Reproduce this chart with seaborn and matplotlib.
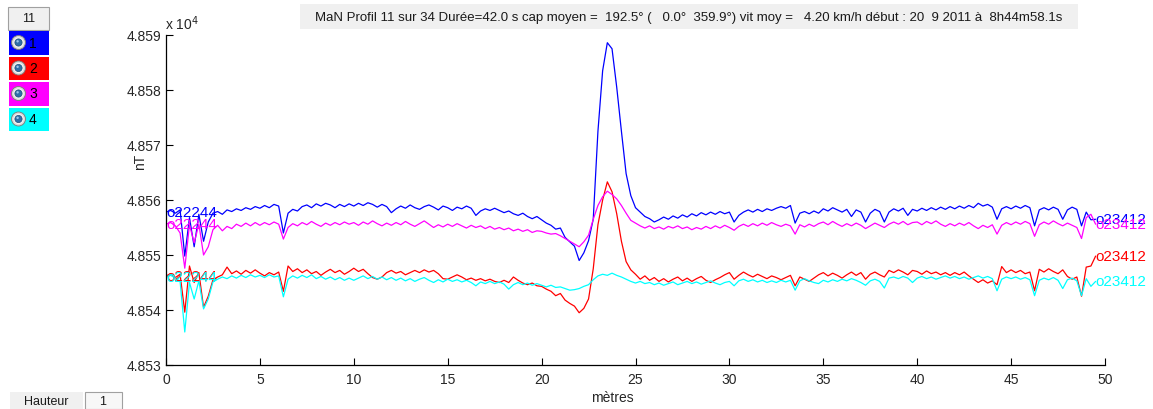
import numpy as np
import pandas as pd
import matplotlib
matplotlib.use("Agg")
import matplotlib.pyplot as plt
from matplotlib.patches import Rectangle, Circle
from matplotlib.ticker import FuncFormatter
import seaborn as sns

# distance along the profile (m), one sample every 0.25 m
distance = [round(0.25 * i, 2) for i in range(199)]

# total field per sensor (nT)
blue = [
    48557.8, 48558.1, 48557.6, 48558.2, 48549.8, 48556.8, 48551.5, 48557.4, 48552.5, 48556.0,
    48557.6, 48557.9, 48557.4, 48558.2, 48557.9, 48558.4, 48558.1, 48558.6, 48558.3, 48558.8,
    48558.5, 48559.0, 48558.6, 48559.2, 48558.9, 48554.0, 48557.6, 48558.3, 48558.0, 48558.8,
    48559.1, 48558.6, 48559.3, 48558.9, 48559.4, 48559.1, 48558.6, 48559.2, 48558.8, 48559.3,
    48558.9, 48559.4, 48559.0, 48559.5, 48559.2, 48558.7, 48559.2, 48558.8, 48557.7, 48558.4,
    48558.9, 48558.5, 48559.1, 48558.6, 48558.3, 48558.8, 48559.1, 48558.7, 48558.2, 48558.9,
    48558.6, 48558.1, 48558.7, 48558.4, 48558.9, 48558.5, 48557.2, 48558.0, 48558.4, 48558.1,
    48558.5, 48558.1, 48557.7, 48558.0, 48557.5, 48557.2, 48557.6, 48557.0, 48556.6, 48557.0,
    48556.4, 48555.8, 48555.4, 48554.7, 48554.9, 48553.2, 48552.4, 48551.6, 48549.0, 48550.4,
    48552.6, 48556.5, 48572.5, 48583.5, 48588.6, 48587.5, 48580.5, 48572.5, 48564.8, 48560.8,
    48558.6, 48557.8, 48557.0, 48556.6, 48556.0, 48556.4, 48556.9, 48556.5, 48557.1, 48556.7,
    48557.3, 48556.9, 48557.5, 48557.1, 48557.7, 48557.3, 48557.8, 48557.4, 48557.9, 48557.5,
    48557.8, 48556.0, 48557.2, 48557.8, 48558.2, 48557.8, 48558.3, 48557.9, 48558.4, 48558.1,
    48558.5, 48558.8, 48558.5, 48559.0, 48555.8, 48557.6, 48557.9, 48557.5, 48558.0, 48557.6,
    48558.4, 48558.0, 48558.6, 48558.2, 48557.8, 48558.3, 48557.0, 48558.2, 48557.8, 48556.0,
    48557.6, 48558.3, 48557.9, 48556.0, 48557.8, 48558.4, 48558.0, 48558.5, 48557.2, 48558.3,
    48558.0, 48558.5, 48558.1, 48558.6, 48558.2, 48558.7, 48558.3, 48558.8, 48558.4, 48558.9,
    48558.5, 48559.0, 48558.6, 48559.4, 48558.9, 48559.2, 48558.7, 48556.5, 48558.4, 48558.8,
    48558.4, 48558.9, 48558.5, 48559.0, 48558.6, 48555.3, 48558.2, 48558.6, 48558.2, 48558.7,
    48558.3, 48556.5, 48558.2, 48558.7, 48558.3, 48555.3, 48557.8, 48556.4, 48556.5,
]

red = [
    48546.2, 48546.6, 48545.9, 48546.5, 48539.6, 48548.0, 48545.0, 48546.8, 48540.5, 48542.5,
    48545.5, 48546.0, 48546.4, 48547.8, 48546.6, 48547.1, 48546.5, 48547.2, 48546.7, 48547.3,
    48546.7, 48546.2, 48546.8, 48546.4, 48546.9, 48543.4, 48548.0, 48547.0, 48547.5, 48546.8,
    48547.3, 48546.6, 48547.0, 48546.3, 48546.9, 48547.4, 48546.8, 48547.2, 48546.5, 48547.0,
    48547.6, 48547.0, 48547.4, 48546.6, 48545.9, 48545.6, 48546.0, 48546.8, 48547.2, 48546.7,
    48547.0, 48546.4, 48546.8, 48547.2, 48546.8, 48547.3, 48546.9, 48547.2, 48546.6, 48545.7,
    48545.6, 48546.0, 48546.4, 48546.0, 48545.5, 48545.8, 48545.4, 48545.7, 48545.3, 48545.6,
    48545.2, 48545.0, 48545.4, 48545.0, 48546.0, 48545.4, 48544.9, 48544.6, 48544.9, 48544.4,
    48544.3, 48543.8, 48543.4, 48542.6, 48543.0, 48541.8, 48541.2, 48540.7, 48539.5, 48540.3,
    48542.0, 48547.5, 48555.5, 48560.0, 48563.3, 48561.5, 48557.5, 48552.5, 48548.8, 48547.3,
    48546.5, 48545.6, 48546.2, 48545.4, 48545.9, 48545.2, 48545.7, 48545.1, 48545.6, 48546.0,
    48545.3, 48545.8, 48545.2, 48545.7, 48546.1, 48545.4, 48545.0, 48545.5, 48545.9, 48546.4,
    48546.8, 48545.6, 48546.3, 48546.9, 48546.4, 48546.0, 48546.5, 48546.1, 48545.7, 48546.2,
    48545.9, 48545.5, 48545.9, 48546.3, 48544.4, 48546.0, 48545.6, 48545.2, 48545.8, 48546.4,
    48546.8, 48546.2, 48546.7, 48546.3, 48545.8, 48546.4, 48546.9, 48546.3, 48546.8, 48545.6,
    48546.5, 48546.9, 48546.4, 48546.0, 48547.2, 48546.8, 48547.3, 48546.9, 48546.4, 48547.2,
    48547.0, 48546.5, 48547.1, 48546.6, 48546.9, 48546.4, 48546.8, 48546.3, 48546.8, 48546.4,
    48546.9, 48546.2, 48545.6, 48545.0, 48545.5, 48544.9, 48545.3, 48544.6, 48547.9, 48546.8,
    48547.3, 48546.8, 48547.2, 48546.6, 48546.9, 48543.5, 48547.4, 48546.9, 48547.5, 48547.0,
    48546.6, 48547.3, 48546.1, 48545.6, 48546.0, 48542.5, 48547.8, 48548.0, 48549.8,
]

magenta = [
    48555.6, 48555.9, 48555.3, 48554.0, 48547.6, 48555.5, 48552.2, 48555.6, 48550.0, 48551.5,
    48554.6, 48555.4, 48554.4, 48555.2, 48554.8, 48555.6, 48555.2, 48555.8, 48555.3, 48555.9,
    48555.4, 48555.9, 48555.5, 48556.0, 48555.6, 48552.9, 48555.0, 48555.7, 48555.3, 48555.9,
    48555.5, 48556.1, 48555.6, 48555.2, 48555.8, 48555.4, 48555.9, 48555.5, 48556.0, 48555.6,
    48555.9, 48555.4, 48556.0, 48555.6, 48556.2, 48555.7, 48555.3, 48555.8, 48555.4, 48555.9,
    48555.5, 48556.1, 48555.6, 48555.2, 48555.7, 48556.2, 48555.6, 48555.0, 48555.5, 48555.1,
    48555.6, 48555.2, 48555.7, 48555.3, 48554.9, 48555.4, 48555.0, 48555.3, 48554.8, 48555.2,
    48554.7, 48555.0, 48554.6, 48554.9, 48554.4, 48554.7, 48554.3, 48554.6, 48554.1, 48554.4,
    48554.3, 48554.0, 48553.8, 48553.9, 48553.5, 48553.0, 48552.5, 48552.0, 48551.5, 48552.4,
    48553.6, 48556.5, 48559.0, 48560.6, 48561.6, 48561.0, 48560.2, 48559.0, 48557.6, 48556.3,
    48555.8, 48555.3, 48554.9, 48555.3, 48554.8, 48555.1, 48554.7, 48555.2, 48554.9, 48555.3,
    48554.8, 48555.1, 48554.6, 48555.0, 48554.7, 48555.2, 48554.8, 48555.3, 48554.9, 48555.4,
    48555.0, 48554.5, 48555.2, 48555.6, 48555.2, 48555.7, 48555.3, 48555.8, 48555.4, 48555.9,
    48555.5, 48555.2, 48555.6, 48555.3, 48553.8, 48555.5, 48555.1, 48555.6, 48555.2, 48555.7,
    48556.0, 48555.5, 48556.1, 48555.6, 48555.2, 48555.7, 48555.3, 48555.8, 48555.4, 48554.8,
    48555.3, 48555.8, 48555.4, 48555.0, 48555.6, 48556.0, 48555.6, 48556.1, 48555.5, 48555.9,
    48556.0, 48555.5, 48556.1, 48555.7, 48556.2, 48555.6, 48555.2, 48555.7, 48555.3, 48555.8,
    48555.4, 48555.9, 48555.3, 48554.8, 48555.4, 48555.0, 48555.5, 48553.8, 48555.4, 48555.9,
    48555.5, 48556.0, 48555.6, 48556.1, 48555.7, 48553.4, 48555.5, 48556.0, 48555.6, 48556.2,
    48555.7, 48555.3, 48555.8, 48555.4, 48555.0, 48553.0, 48556.8, 48557.4, 48555.6,
]

cyan = [
    48546.0, 48546.3, 48545.8, 48545.2, 48536.0, 48545.0, 48542.0, 48545.3, 48540.2, 48542.0,
    48545.1, 48545.6, 48546.0, 48545.7, 48546.2, 48545.8, 48546.3, 48545.9, 48546.4, 48546.0,
    48546.3, 48545.9, 48546.4, 48546.0, 48546.2, 48542.4, 48545.6, 48546.2, 48545.8, 48546.3,
    48545.9, 48546.4, 48545.7, 48546.1, 48545.6, 48546.0, 48545.5, 48545.9, 48545.4, 48545.8,
    48545.4, 48545.8, 48546.2, 48545.7, 48546.1, 48545.6, 48546.0, 48545.5, 48545.9, 48545.4,
    48545.8, 48545.3, 48545.7, 48545.2, 48545.6, 48545.9, 48545.4, 48545.0, 48545.5, 48545.1,
    48545.6, 48545.2, 48545.5, 48545.1, 48545.4, 48545.0, 48544.4, 48545.1, 48544.8, 48545.2,
    48544.8, 48545.1, 48544.7, 48543.8, 48544.6, 48545.0, 48544.6, 48544.9, 48544.5, 48544.8,
    48544.5, 48544.2, 48544.5, 48544.1, 48544.2, 48543.9, 48543.6, 48543.7, 48543.9, 48544.3,
    48544.6, 48545.5, 48546.2, 48546.5, 48546.3, 48546.7, 48546.3, 48546.0, 48545.6, 48545.2,
    48544.9, 48545.2, 48544.8, 48545.0, 48544.6, 48544.9, 48544.5, 48544.8, 48545.1, 48544.6,
    48544.9, 48545.2, 48544.8, 48545.1, 48544.7, 48545.0, 48545.3, 48544.9, 48544.6, 48545.0,
    48545.2, 48544.4, 48545.3, 48545.6, 48545.2, 48545.5, 48545.1, 48545.4, 48545.0, 48545.3,
    48545.0, 48545.4, 48545.1, 48545.4, 48543.6, 48545.3, 48545.7, 48545.3, 48545.0, 48544.8,
    48545.4, 48545.1, 48545.5, 48545.2, 48545.6, 48545.3, 48545.7, 48545.4, 48545.0, 48544.5,
    48545.3, 48545.6, 48545.2, 48544.0, 48545.8, 48546.0, 48545.7, 48546.1, 48545.8, 48545.0,
    48545.8, 48546.1, 48545.7, 48546.0, 48545.6, 48545.9, 48546.2, 48545.8, 48546.1, 48545.7,
    48546.0, 48545.6, 48545.9, 48546.2, 48545.8, 48546.1, 48545.7, 48543.5, 48545.6, 48546.0,
    48545.7, 48546.0, 48545.6, 48545.9, 48545.5, 48542.6, 48545.4, 48545.8, 48545.5, 48545.9,
    48545.4, 48543.9, 48545.5, 48545.8, 48545.3, 48542.6, 48545.7, 48544.3, 48545.2,
]

series_names = ["1", "2", "3", "4"]
series_colors = ["#0000ff", "#ff0000", "#ff00ff", "#00ffff"]
start_ids = ["22244", "22244", "22244", "22244"]
end_ids = ["23412", "23412", "23412", "23412"]

y_ticks = [48530, 48540, 48550, 48560, 48570, 48580, 48590]
x_ticks = [0, 5, 10, 15, 20, 25, 30, 35, 40, 45, 50]

title_text = ("MaN Profil 11 sur 34 Durée=42.0 s cap moyen =  192.5° (   0.0°  359.9°) "
              "vit moy =   4.20 km/h début : 20  9 2011 à  8h44m58.1s")

values = [blue, red, magenta, cyan]
df = pd.DataFrame({
    "distance": distance * 4,
    "nT": [v for s in values for v in s],
    "capteur": [n for n, s in zip(series_names, values) for _ in s],
})

sns.set_style("ticks")
plt.rcParams["font.family"] = ["Liberation Sans", "DejaVu Sans"]

W, H = 1153, 410
fig = plt.figure(figsize=(W / 100, H / 100), dpi=100)
ax = fig.add_axes([166 / W, 1 - 366 / H, 939 / W, 330 / H])

sns.lineplot(data=df, x="distance", y="nT", hue="capteur",
             palette=series_colors, hue_order=series_names,
             estimator=None, sort=False, legend=False, linewidth=0.9, ax=ax)

# sensor ids at both ends of each trace
for s, c, a, b in zip(values, series_colors, start_ids, end_ids):
    ax.text(distance[0], s[0], "o" + a, color=c, fontsize=11,
            ha="left", va="center", clip_on=False)
    ax.text(distance[-1], s[-1], "o" + b, color=c, fontsize=11,
            ha="left", va="center", clip_on=False)

ax.set_xlim(0, 50)
ax.set_ylim(48530, 48590)
ax.set_xticks(x_ticks)
ax.set_yticks(y_ticks)
ax.yaxis.set_major_formatter(FuncFormatter(lambda v, p: f"{v / 1e4:.3f}"))
ax.tick_params(direction="in", length=5, width=0.8, labelsize=10,
               labelcolor="#262626", color="black")
ax.tick_params(axis="x", pad=5)
for side in ("top", "right"):
    ax.spines[side].set_visible(False)
for side in ("left", "bottom"):
    ax.spines[side].set_color("black")
    ax.spines[side].set_linewidth(0.9)
ax.set_xlabel("mètres", fontsize=10, color="#262626")
ax.xaxis.set_label_coords((612 - 166) / 939, (366 - 398) / 330)
ax.xaxis.label.set_va("center")
ax.set_ylabel("nT", fontsize=10, color="#262626")
ax.yaxis.set_label_coords((140 - 166) / 939, (366 - 162) / 330)
ax.yaxis.label.set_va("center")

fig.text(165 / W, 1 - 30 / H, r"x 10$^{4}$", fontsize=10, color="#262626",
         ha="left", va="baseline")

# control panel drawn in figure pixel coordinates
ui = fig.add_axes([0, 0, 1, 1], zorder=5)
ui.set_xlim(0, W)
ui.set_ylim(H, 0)
ui.axis("off")
ui.patch.set_alpha(0)

ui.add_patch(Rectangle((300, 5), 778, 25, fc="#f0f0f0", ec="none"))
ui.text(689, 17.5, title_text, fontsize=9.5, ha="center", va="center",
        color="#1a1a1a")

ui.add_patch(Rectangle((8, 8), 41, 23, fc="#f0f0f0", ec="#a0a0a0", lw=0.8))
ui.text(28.5, 19.5, "11", fontsize=9, ha="center", va="center", color="#1a1a1a")

for i, (n, c) in enumerate(zip(series_names, series_colors)):
    top = 32 + 25.5 * i
    ui.add_patch(Rectangle((9, top), 40, 23.5, fc=c, ec="none"))
    cy = top + 11.5
    ui.add_patch(Circle((18.5, cy), 7, fc="#d9d9d9", ec="#7a7a7a", lw=0.6))
    ui.add_patch(Circle((18.5, cy), 5.2, fc="#f4f4f4", ec="none"))
    ui.add_patch(Circle((18.5, cy), 3.6, fc="#2f6fa8", ec="#1e4f7c", lw=0.5))
    ui.add_patch(Circle((17.6, cy - 1.2), 1.2, fc="#9cc6ea", ec="none"))
    ui.text(29, cy, n, fontsize=10, ha="left", va="center", color="black")

ui.add_patch(Rectangle((10, 393), 73, 17, fc="#f0f0f0", ec="none"))
ui.text(46, 402, "Hauteur", fontsize=9, ha="center", va="center", color="#1a1a1a")
ui.add_patch(Rectangle((85, 393), 37, 17, fc="#f7f7f7", ec="#a0a0a0", lw=0.8))
ui.text(103, 402, "1", fontsize=9, ha="center", va="center", color="#1a1a1a")

fig.savefig("out.png", dpi=100, facecolor="white")
